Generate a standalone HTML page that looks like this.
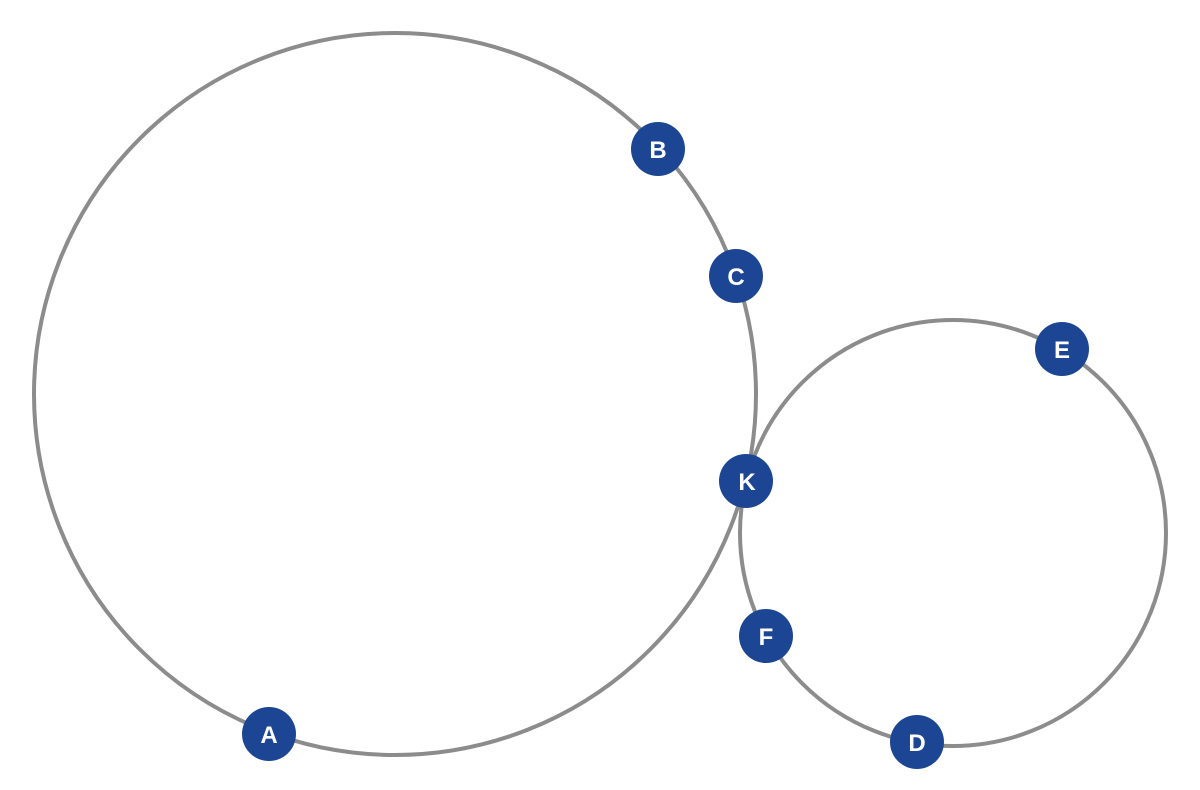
<!DOCTYPE html>
<html><head><meta charset="utf-8"><style>
html,body{margin:0;padding:0;background:#fff;width:1200px;height:790px;overflow:hidden}
text{font-family:"Liberation Sans",sans-serif;font-weight:bold;font-size:24px;fill:#fff}
</style></head><body>
<svg width="1200" height="790" viewBox="0 0 1200 790">
<circle cx="395" cy="394" r="361" fill="none" stroke="#8c8c8c" stroke-width="4"/>
<circle cx="953" cy="533" r="213" fill="none" stroke="#8c8c8c" stroke-width="4"/>
<g fill="#1c4694">
<circle cx="658" cy="149" r="27"/>
<circle cx="736" cy="276" r="27"/>
<circle cx="1062" cy="349" r="27"/>
<circle cx="746" cy="481" r="27"/>
<circle cx="766" cy="636" r="27"/>
<circle cx="917" cy="742" r="27"/>
<circle cx="269" cy="734" r="27"/>
</g>
<g text-anchor="middle">
<text x="658" y="158">B</text>
<text x="736" y="285">C</text>
<text x="1062" y="358">E</text>
<text x="747" y="490">K</text>
<text x="766" y="645">F</text>
<text x="917" y="751">D</text>
<text x="269" y="743">A</text>
</g>
</svg>
</body></html>
